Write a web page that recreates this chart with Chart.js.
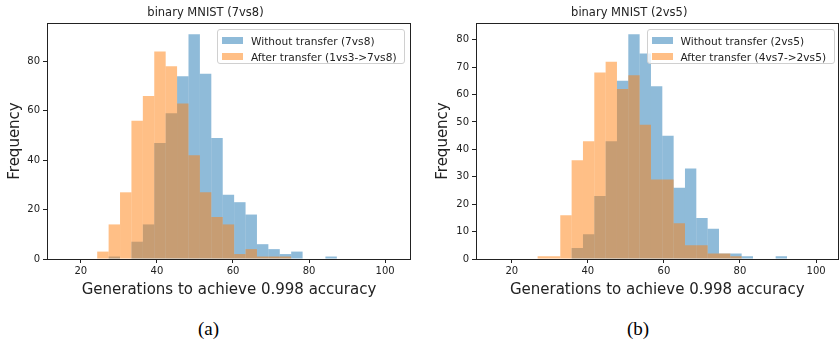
<!DOCTYPE html>
<html>
<head>
<meta charset="utf-8">
<script src="https://cdn.jsdelivr.net/npm/chart.js@4.4.1/dist/chart.umd.min.js"></script>
<style>
    body { margin: 0; background: #fff; width: 839px; height: 343px; overflow: hidden; position: relative; font-family: "DejaVu Sans", sans-serif; }
    .panel { position: absolute; top: 0; height: 305px; }
    .legend { position: absolute; border: 1px solid #d0d0d0; border-radius: 3px; background: rgba(255,255,255,0.8); font-size: 10.6px; color: #222; box-sizing: border-box; }
    .legend .row { position: absolute; left: 0; height: 16px; line-height: 16px; white-space: nowrap; }
    .legend .patch { position: absolute; left: 4px; top: 4px; width: 21px; height: 7px; }
    .legend .txt { position: absolute; left: 33px; top: 0; }
    .caption { position: absolute; top: 318px; font-family: "Liberation Serif", serif; font-size: 19px; color: #000; }
</style>
</head>
<body>
<div class="panel" style="left:0;width:420px"><canvas id="chartA" width="420" height="305"></canvas></div>
<div class="panel" style="left:420px;width:419px"><canvas id="chartB" width="419" height="305"></canvas></div>
<div class="caption" style="left:198px">(a)</div>
<div class="caption" style="left:627px">(b)</div>
<script>
// bin edges and counts
const edgesA = [24.3, 27.3, 30.3, 33.3, 36.3, 39.3, 42.3, 45.3, 48.3, 51.3, 54.3, 57.3, 60.3, 63.3, 66.3, 69.3, 72.3, 75.3, 78.3, 81.3, 84.3, 87.3];
const withoutA = [0, 1, 0, 7, 14, 47, 59, 74, 91, 75, 49, 26, 23, 18, 6, 4, 2, 3, 0, 0, 1];
const afterA = [3, 14, 27, 56, 66, 84, 78, 63, 42, 27, 17, 14, 2, 4, 1, 1, 1, 0, 0, 0, 0];

const edgesB = [26.80, 29.78, 32.76, 35.74, 38.72, 41.70, 44.68, 47.66, 50.64, 53.62, 56.60, 59.58, 62.56, 65.54, 68.52, 71.50, 74.48, 77.46, 80.44, 83.42, 86.40, 89.38, 92.36];
const withoutB = [0, 0, 0, 4, 9, 23, 43, 65, 82, 75, 63, 45, 26, 33, 15, 11, 2, 2, 1, 0, 0, 1];
const afterB = [1, 1, 16, 36, 43, 68, 72, 62, 67, 49, 29, 29, 13, 5, 5, 2, 2, 1, 0, 0, 0, 0];

const xTicks = [20, 40, 60, 80, 100];
const blue = 'rgba(31, 119, 180, 0.5)';
const orange = 'rgba(255, 127, 14, 0.5)';

const frame = {
    id: 'frame',
    afterDraw(chart) {
        const a = chart.chartArea;
        const ctx = chart.ctx;
        ctx.save();
        ctx.strokeStyle = '#222';
        ctx.lineWidth = 1;
        ctx.strokeRect(Math.round(a.left) + 0.5, Math.round(a.top) + 0.5, Math.round(a.right - a.left) - 1, Math.round(a.bottom - a.top));
        ctx.restore();
    }
};

function toPoints(edges, counts) {
    return counts.map((c, i) => ({ x: (edges[i] + edges[i + 1]) / 2, y: c }));
}

function makePanel(cfg) {
    const chart = new Chart(document.getElementById(cfg.id), {
        type: 'bar',
        data: {
            datasets: [
                { label: cfg.labels[0], data: toPoints(cfg.edges, cfg.without), backgroundColor: blue, order: 1 },
                { label: cfg.labels[1], data: toPoints(cfg.edges, cfg.after), backgroundColor: orange, order: 0 }
            ]
        },
        options: {
            responsive: false,
            animation: false,
            layout: { padding: { left: 0, right: cfg.padRight, top: 0, bottom: 0 } },
            datasets: { bar: { barPercentage: 1, categoryPercentage: 1, grouped: false, borderWidth: 0, inflateAmount: 0 } },
            plugins: {
                legend: { display: false },
                tooltip: { enabled: false },
                title: {
                    display: true,
                    text: cfg.title,
                    color: '#222',
                    font: { family: 'DejaVu Sans', size: 11.5, weight: 'normal' },
                    padding: { top: 6, bottom: 3.2 }
                }
            },
            scales: {
                x: {
                    type: 'linear',
                    min: cfg.xMin,
                    max: cfg.xMax,
                    offset: false,
                    afterFit: s => { s.height = 46; },
                    afterBuildTicks: s => { s.ticks = xTicks.map(v => ({ value: v })); },
                    ticks: { color: '#222', font: { family: 'DejaVu Sans', size: 10 }, padding: 2, maxRotation: 0, includeBounds: false },
                    grid: { drawOnChartArea: false, drawTicks: true, tickLength: 4, color: '#222', offset: false },
                    border: { display: false },
                    title: {
                        display: true,
                        text: 'Generations to achieve 0.998 accuracy',
                        color: '#222',
                        font: { family: 'DejaVu Sans', size: 15 },
                        padding: { top: 0, bottom: 6 }
                    }
                },
                y: {
                    min: 0,
                    max: cfg.yMax,
                    afterFit: s => { s.width = cfg.yWidth; },
                    ticks: { stepSize: cfg.yStep, color: '#222', font: { family: 'DejaVu Sans', size: 10 }, padding: 3, includeBounds: false },
                    grid: { drawOnChartArea: false, drawTicks: true, tickLength: 4, color: '#222' },
                    border: { display: false },
                    title: {
                        display: true,
                        text: 'Frequency',
                        color: '#222',
                        font: { family: 'DejaVu Sans', size: 15 },
                        padding: { top: cfg.yTitlePad, bottom: 0 }
                    }
                }
            }
        },
        plugins: [frame]
    });

    // legend box in the upper right corner of the plot area
    const a = chart.chartArea;
    const box = document.createElement('div');
    box.className = 'legend';
    box.style.left = (cfg.offset + a.right - cfg.legendWidth - cfg.legendGap) + 'px';
    box.style.top = (a.top + 6) + 'px';
    box.style.width = cfg.legendWidth + 'px';
    box.style.height = '35px';
    chart.data.datasets.forEach((ds, i) => {
        const row = document.createElement('div');
        row.className = 'row';
        row.style.top = (3 + i * 16.3) + 'px';
        row.innerHTML = '<div class="patch" style="background:' + ds.backgroundColor + '"></div><div class="txt">' + ds.label.replace('>', '&gt;') + '</div>';
        box.appendChild(row);
    });
    document.body.appendChild(box);
}

makePanel({
    id: 'chartA', offset: 0, edges: edgesA, without: withoutA, after: afterA,
    labels: ['Without transfer (7vs8)', 'After transfer (1vs3->7vs8)'],
    title: 'binary MNIST (7vs8)',
    xMin: 11.1, xMax: 106.8, yMax: 95.55, yStep: 20, yWidth: 47, yTitlePad: 6, padRight: 9,
    legendWidth: 188, legendGap: 6
});

makePanel({
    id: 'chartB', offset: 420, edges: edgesB, without: withoutB, after: afterB,
    labels: ['Without transfer (2vs5)', 'After transfer (4vs7->2vs5)'],
    title: 'binary MNIST (2vs5)',
    xMin: 10.6, xMax: 105.9, yMax: 86.1, yStep: 10, yWidth: 56, yTitlePad: 14, padRight: 0.5,
    legendWidth: 188, legendGap: 4
});
</script>
</body>
</html>
